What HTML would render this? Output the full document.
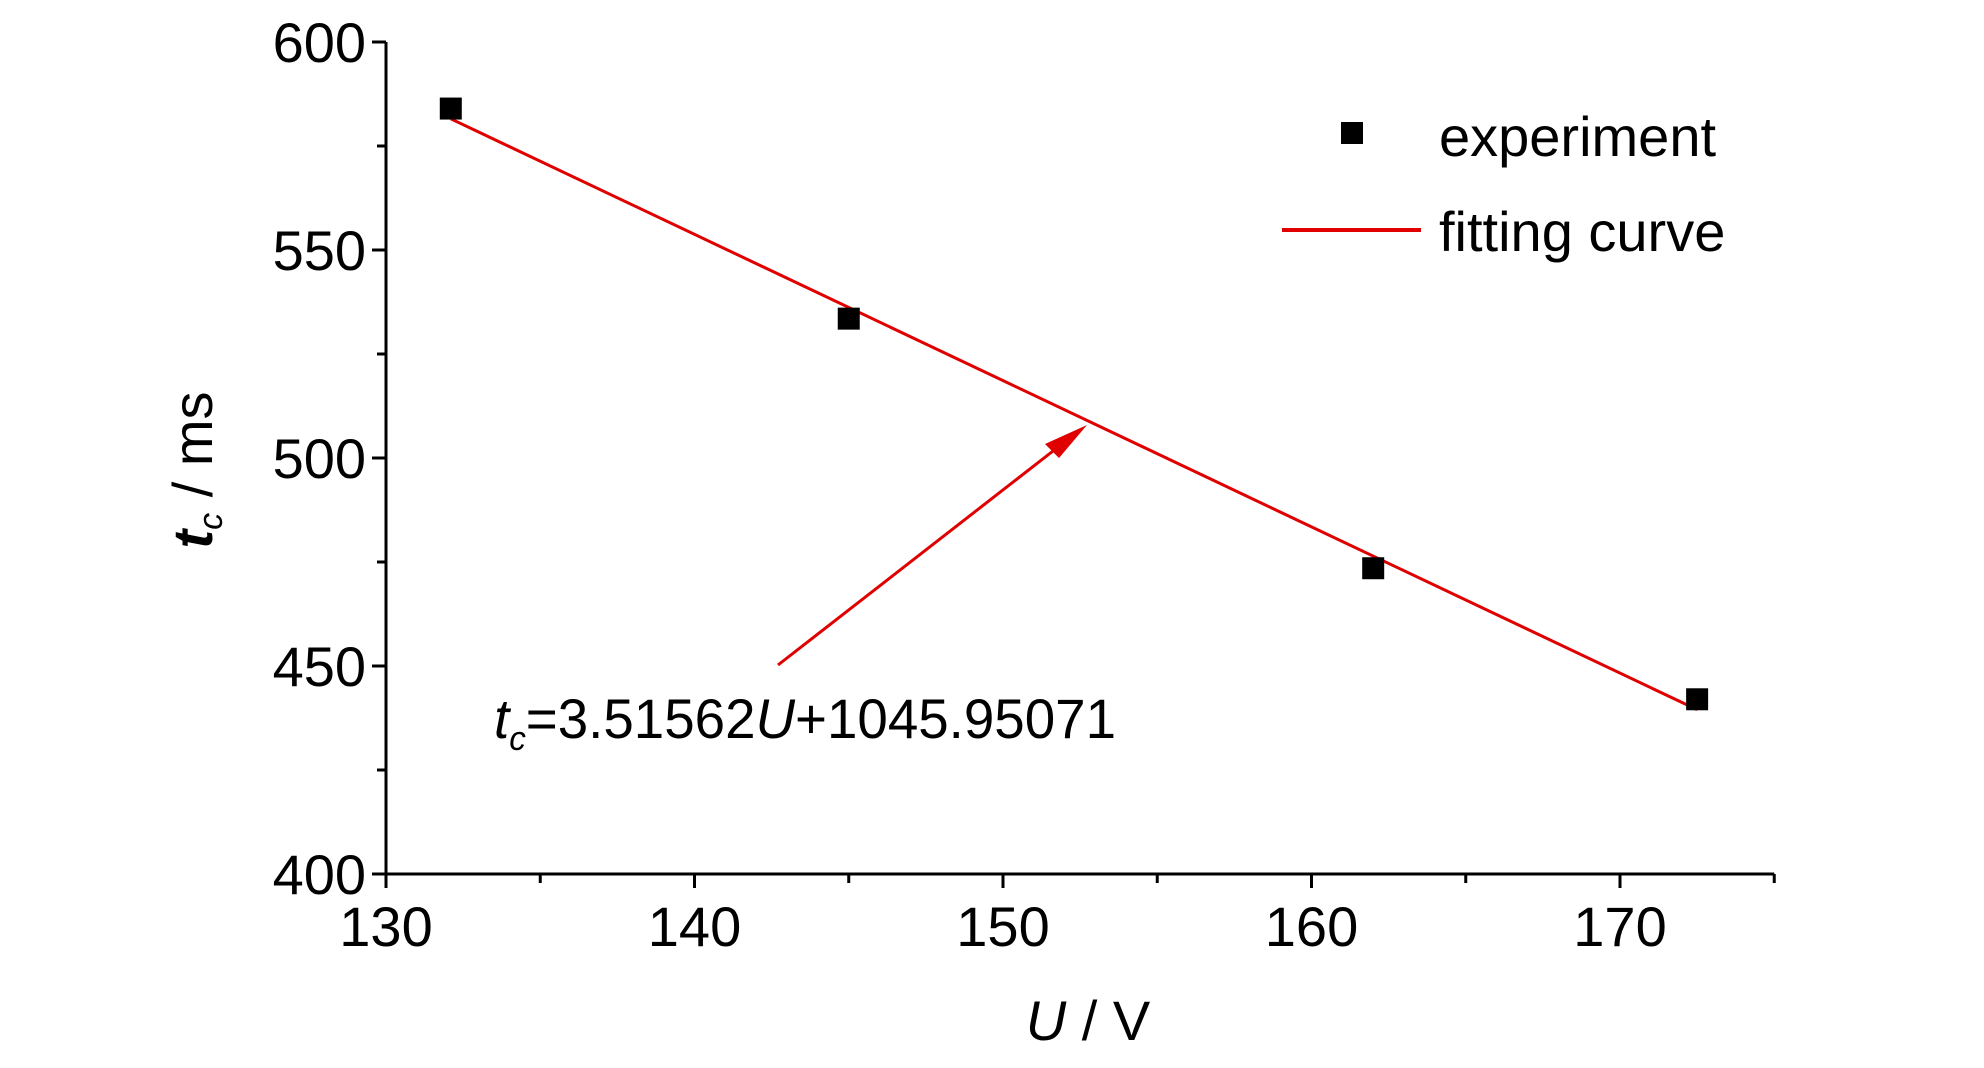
<!DOCTYPE html>
<html><head><meta charset="utf-8"><style>
body{margin:0;background:#fff}
svg text{font-family:"Liberation Sans Narrow","Liberation Sans",sans-serif;fill:#000}
</style></head><body>
<svg id="chart" width="1984" height="1063" viewBox="0 0 1984 1063" xmlns="http://www.w3.org/2000/svg">
<g id="axes"></g>
<g id="marks"></g>
<g>
 <rect x="1341" y="122" width="22" height="22" fill="#000"/>
 <text x="1439" y="156" font-size="56">experiment</text>
 <line x1="1282" y1="230" x2="1421" y2="230" stroke="#e00000" stroke-width="4"/>
 <text x="1439" y="251" font-size="56">fitting curve</text>
</g>
<g>
 <line x1="778" y1="665" x2="1062" y2="444" stroke="#e00000" stroke-width="3"/>
 <polygon points="1087,425 1045,444 1059,458" fill="#e00000"/>
 <text x="494" y="738" font-size="56" textLength="622" lengthAdjust="spacingAndGlyphs"><tspan font-style="italic">t</tspan><tspan font-style="italic" font-size="34" dy="12">c</tspan><tspan dy="-12">=3.51562</tspan><tspan font-style="italic">U</tspan><tspan>+1045.95071</tspan></text>
</g>
<text transform="translate(212,470) rotate(-90)" text-anchor="middle" font-size="56"><tspan font-style="italic" font-weight="bold">t</tspan><tspan font-style="italic" font-size="34" dy="10">c</tspan><tspan dy="-10"> / ms</tspan></text>
<text x="1088" y="1040" text-anchor="middle" font-size="56"><tspan font-style="italic">U</tspan> / V</text>
</svg>
<script>
const xTicks=[130,140,150,160,170];
const yTicks=[400,450,500,550,600];
const expU=[132.1,145,162,172.5];
const expT=[584,533.5,473.5,442];
const fitSlope=-3.51562, fitIntercept=1045.95071;
const fitRange=[132.1,172.5];
const X=u=>386+(u-130)*30.85;
const Y=t=>874-(t-400)*4.16;
const ns='http://www.w3.org/2000/svg';
const axes=document.getElementById('axes'), marks=document.getElementById('marks');
function mk(tag,attrs,parent){const e=document.createElementNS(ns,tag);for(const k in attrs)e.setAttribute(k,attrs[k]);parent.appendChild(e);return e;}
let e=mk('line',{x1:X(130),y1:Y(400),x2:X(175),y2:Y(400),stroke:'#000','stroke-width':3},axes);


e=mk('line',{x1:X(130),y1:Y(400),x2:X(130),y2:Y(600),stroke:'#000','stroke-width':3},axes);


for(let u=130;u<=175;u+=5){const major=u%10===0;
 e=mk('line',{x1:X(u),y1:Y(400),x2:X(u),y2:Y(400)+(major?14:9),stroke:'#000','stroke-width':3},axes);
 
 }
xTicks.forEach(u=>{e=mk('text',{x:X(u),y:946,'text-anchor':'middle','font-size':56},axes);e.textContent=u;
 
 });
for(let t=400;t<=600;t+=25){const major=t%50===0;
 e=mk('line',{x1:X(130),y1:Y(t),x2:X(130)-(major?14:9),y2:Y(t),stroke:'#000','stroke-width':3},axes);
 
 }
yTicks.forEach(t=>{e=mk('text',{x:366,y:Y(t)+20,'text-anchor':'end','font-size':56},axes);e.textContent=t;
 
 });
e=mk('line',{x1:X(fitRange[0]),y1:Y(fitSlope*fitRange[0]+fitIntercept),x2:X(fitRange[1]),y2:Y(fitSlope*fitRange[1]+fitIntercept),stroke:'#e00000','stroke-width':3},marks);


expU.forEach((u,i)=>{e=mk('rect',{x:X(u)-11,y:Y(expT[i])-11,width:22,height:22,fill:'#000'},marks);
 
 });
</script>
</body></html>
